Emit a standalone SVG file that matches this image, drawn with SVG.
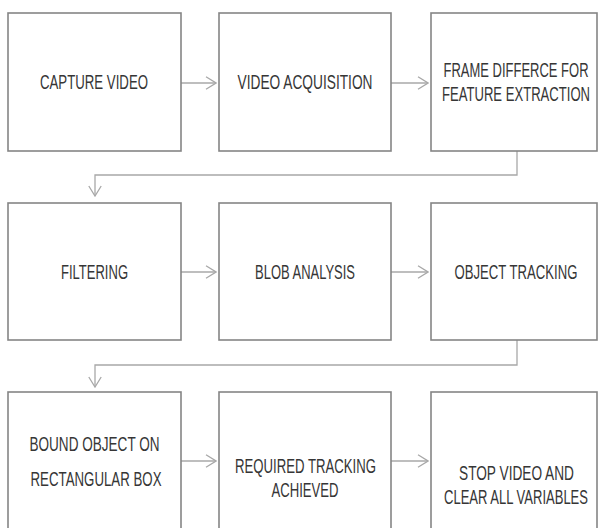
<svg xmlns="http://www.w3.org/2000/svg" width="598" height="528" viewBox="0 0 598 528">
  <defs>
    <style>
      .box { fill: #ffffff; stroke: #858585; stroke-width: 1.6; }
      .lbl { font-family: "Liberation Sans", Arial, sans-serif; font-size: 21px; fill: #363636; text-anchor: middle; }
      .wire { fill: none; stroke: #a8a8a8; stroke-width: 1.3; }
    </style>
    <marker id="chev" viewBox="0 0 12 14" refX="11" refY="7" markerWidth="12" markerHeight="14" markerUnits="userSpaceOnUse" orient="auto">
      <path d="M1,0.8 L11,7 L1,13.2" fill="none" stroke="#a8a8a8" stroke-width="1.3"/>
    </marker>
  </defs>
  <rect width="598" height="528" fill="#ffffff"/>

  <!-- connectors -->
  <g id="connectors">
    <line class="wire" x1="181" y1="83" x2="216" y2="83" marker-end="url(#chev)"/>
    <line class="wire" x1="391" y1="83" x2="428" y2="83" marker-end="url(#chev)"/>
    <path class="wire" d="M517,151 V175 H95 V196" marker-end="url(#chev)"/>
    <line class="wire" x1="181" y1="272" x2="216" y2="272" marker-end="url(#chev)"/>
    <line class="wire" x1="391" y1="272" x2="428" y2="272" marker-end="url(#chev)"/>
    <path class="wire" d="M517,340 V365 H95 V387" marker-end="url(#chev)"/>
    <line class="wire" x1="181" y1="461" x2="216" y2="461" marker-end="url(#chev)"/>
    <line class="wire" x1="391" y1="461" x2="428" y2="461" marker-end="url(#chev)"/>
  </g>

  <!-- row 1 (labels set narrow: scaled 0.65 horizontally) -->
  <g id="capture-video">
    <rect class="box" x="8" y="13" width="173" height="138"/>
    <text class="lbl" transform="translate(94,88.5) scale(0.65,1)" textLength="166.2" lengthAdjust="spacingAndGlyphs">CAPTURE VIDEO</text>
  </g>
  <g id="video-acquisition">
    <rect class="box" x="219" y="13" width="172" height="138"/>
    <text class="lbl" transform="translate(305,88.5) scale(0.65,1)" textLength="207.7" lengthAdjust="spacingAndGlyphs">VIDEO ACQUISITION</text>
  </g>
  <g id="frame-difference">
    <rect class="box" x="431" y="13" width="166" height="138"/>
    <text class="lbl" transform="translate(516,76.5) scale(0.65,1)" textLength="223.1" lengthAdjust="spacingAndGlyphs">FRAME DIFFERCE FOR</text>
    <text class="lbl" transform="translate(516,100.5) scale(0.65,1)" textLength="227.7" lengthAdjust="spacingAndGlyphs">FEATURE EXTRACTION</text>
  </g>

  <!-- row 2 -->
  <g id="filtering">
    <rect class="box" x="8" y="203" width="173" height="137"/>
    <text class="lbl" transform="translate(94.5,278.5) scale(0.65,1)" textLength="103.1" lengthAdjust="spacingAndGlyphs">FILTERING</text>
  </g>
  <g id="blob-analysis">
    <rect class="box" x="219" y="203" width="172" height="137"/>
    <text class="lbl" transform="translate(305,278.5) scale(0.65,1)" textLength="153.8" lengthAdjust="spacingAndGlyphs">BLOB ANALYSIS</text>
  </g>
  <g id="object-tracking">
    <rect class="box" x="431" y="203" width="166" height="137"/>
    <text class="lbl" transform="translate(516,278.5) scale(0.65,1)" textLength="189.2" lengthAdjust="spacingAndGlyphs">OBJECT TRACKING</text>
  </g>

  <!-- row 3 -->
  <g id="bound-object">
    <rect class="box" x="8" y="392" width="173" height="140"/>
    <text class="lbl" transform="translate(94.5,451) scale(0.65,1)" textLength="200" lengthAdjust="spacingAndGlyphs">BOUND OBJECT ON</text>
    <text class="lbl" transform="translate(96,485.5) scale(0.65,1)" textLength="201.5" lengthAdjust="spacingAndGlyphs">RECTANGULAR BOX</text>
  </g>
  <g id="required-tracking">
    <rect class="box" x="219" y="392" width="172" height="140"/>
    <text class="lbl" transform="translate(305.5,473) scale(0.65,1)" textLength="216.9" lengthAdjust="spacingAndGlyphs">REQUIRED TRACKING</text>
    <text class="lbl" transform="translate(305,497) scale(0.65,1)" textLength="103.1" lengthAdjust="spacingAndGlyphs">ACHIEVED</text>
  </g>
  <g id="stop-video">
    <rect class="box" x="431" y="392" width="166" height="140"/>
    <text class="lbl" transform="translate(516.5,479.5) scale(0.65,1)" textLength="176.9" lengthAdjust="spacingAndGlyphs">STOP VIDEO AND</text>
    <text class="lbl" transform="translate(516,503.5) scale(0.65,1)" textLength="221.5" lengthAdjust="spacingAndGlyphs">CLEAR ALL VARIABLES</text>
  </g>
</svg>
